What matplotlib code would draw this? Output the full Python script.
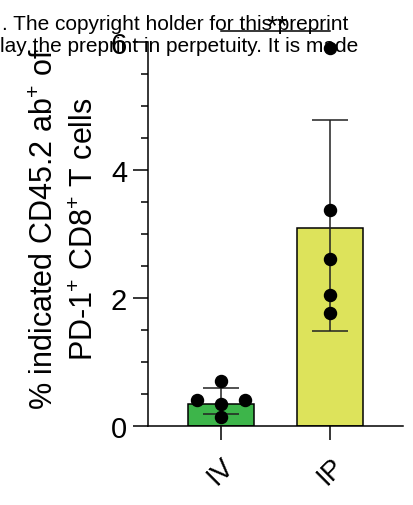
import matplotlib
matplotlib.use("Agg")
import matplotlib.pyplot as plt
import numpy as np

plt.rcParams['font.family'] = ['Liberation Sans', 'DejaVu Sans']
plt.rcParams['mathtext.fontset'] = 'custom'
plt.rcParams['mathtext.rm'] = 'Liberation Sans'
plt.rcParams['mathtext.it'] = 'Liberation Sans:italic'

categories = ['IV', 'IP']
bar_means = [0.35, 3.09]
err_low = [0.19, 1.48]
err_high = [0.59, 4.78]
points_IV = [0.70, 0.41, 0.41, 0.34, 0.14]
points_IP = [5.90, 3.38, 2.61, 2.05, 1.77]
offsets_IV = [0.0, -0.21, 0.22, 0.0, 0.0]
offsets_IP = [0.0, 0.0, 0.0, 0.0, 0.0]
colors = ['#3db54a', '#dde35b']
yticks = [0, 2, 4, 6]

fig = plt.figure(figsize=(4.14, 5.06), dpi=100)
ax = fig.add_axes([148/414, 1-427/506, (403-148)/414, (427-43)/506])

x = np.arange(len(categories))
ax.bar(x, bar_means, width=0.6, color=colors, edgecolor='black', linewidth=1.1, zorder=1)
lo = np.array(bar_means) - np.array(err_low)
hi = np.array(err_high) - np.array(bar_means)
ax.errorbar(x, bar_means, yerr=[lo, hi], fmt='none', ecolor='#222222',
            elinewidth=1.1, capsize=13, capthick=1.1, zorder=2)
ax.scatter(x[0] + np.array(offsets_IV), points_IV, s=75, color='black', zorder=3, clip_on=False)
ax.scatter(x[1] + np.array(offsets_IP), points_IP, s=75, color='black', zorder=3, clip_on=False)

ax.set_xlim(-0.66, 1.66)
ax.set_ylim(0, 6)
ax.set_yticks(yticks)
ax.set_yticks(np.arange(0, 6.01, 0.5), minor=True)
ax.set_xticks(x)
ax.set_xticklabels(categories, rotation=45, ha='right', va='top', rotation_mode='anchor', fontsize=20)
ax.tick_params(axis='y', which='major', length=11, width=1.1, labelsize=21, pad=4)
ax.tick_params(axis='y', which='minor', length=5, width=1.1)
ax.tick_params(axis='x', which='major', length=10, width=1.1, pad=9)
for s in ['top', 'right']:
    ax.spines[s].set_visible(False)
for s in ['left', 'bottom']:
    ax.spines[s].set_linewidth(1.1)

ax.set_ylabel('% indicated CD45.2 ab$^{+}$ of\nPD-1$^{+}$ CD8$^{+}$ T cells', fontsize=22,
              linespacing=1.4)
ax.yaxis.set_label_coords(-0.19, 0.515)

# significance
ax.plot([0, 1], [6.17, 6.17], color='black', lw=1.1, clip_on=False)
ax.text(0.52, 6.05, '**', ha='center', va='bottom', fontsize=20, clip_on=False)

# watermark overlay
fig.text(2/414, 1-30/506, '. The copyright holder for this preprint', fontsize=15, ha='left', va='baseline')
fig.text(0/414, 1-52/506, 'lay the preprint in perpetuity. It is made', fontsize=15, ha='left', va='baseline')

fig.savefig('out.png', dpi=100)
